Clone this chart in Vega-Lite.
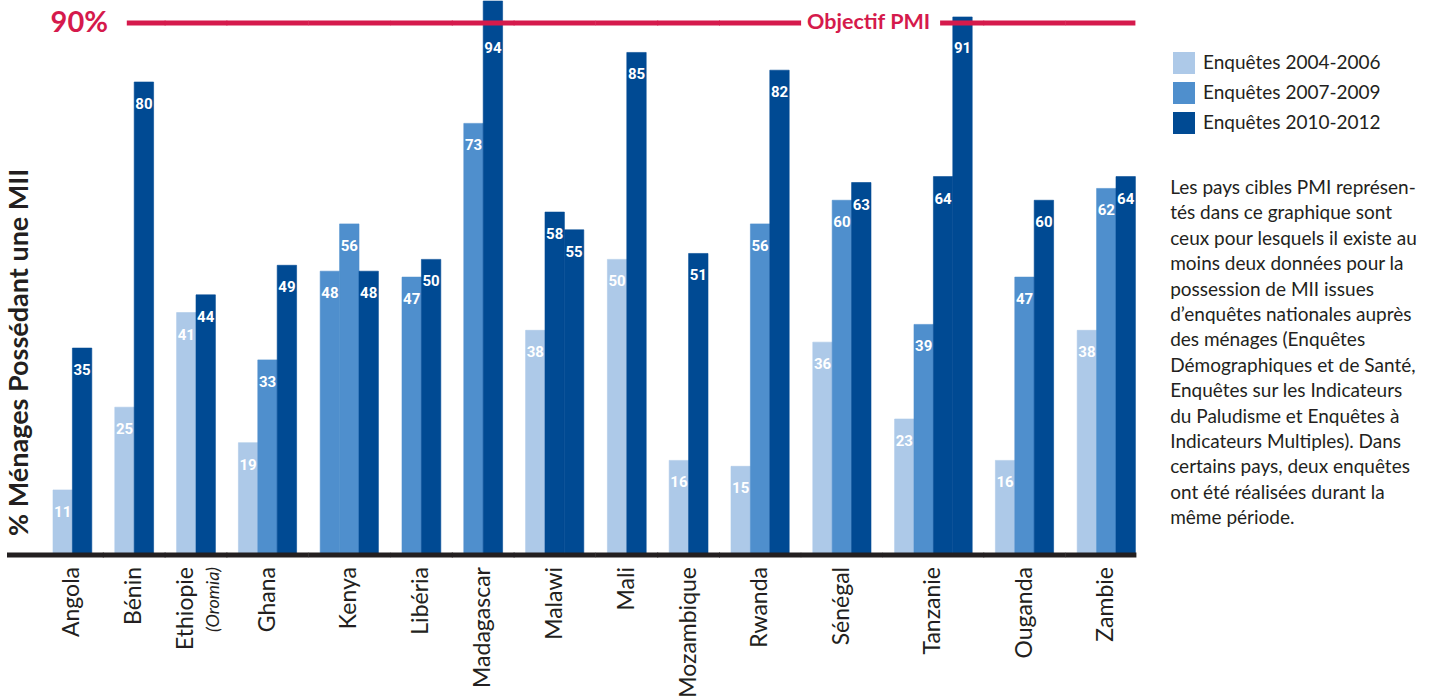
{
  "$schema": "https://vega.github.io/schema/vega-lite/v6.json",
  "padding": {"left": 4, "top": 0, "right": 5, "bottom": 5},
  "autosize": {"type": "pad"},
  "bounds": "flush",
  "config": {"view": {"stroke": null}, "font": "Lato"},
  "data": {
    "values": [
      {"pays": "Angola", "enquete": 1, "periode": "Enquêtes 2004-2006", "valeur": 11},
      {"pays": "Angola", "enquete": 2, "periode": "Enquêtes 2010-2012", "valeur": 35},
      {"pays": "Bénin", "enquete": 1, "periode": "Enquêtes 2004-2006", "valeur": 25},
      {"pays": "Bénin", "enquete": 2, "periode": "Enquêtes 2010-2012", "valeur": 80},
      {"pays": "Ethiopie", "enquete": 1, "periode": "Enquêtes 2004-2006", "valeur": 41},
      {"pays": "Ethiopie", "enquete": 2, "periode": "Enquêtes 2010-2012", "valeur": 44},
      {"pays": "Ghana", "enquete": 1, "periode": "Enquêtes 2004-2006", "valeur": 19},
      {"pays": "Ghana", "enquete": 2, "periode": "Enquêtes 2007-2009", "valeur": 33},
      {"pays": "Ghana", "enquete": 3, "periode": "Enquêtes 2010-2012", "valeur": 49},
      {"pays": "Kenya", "enquete": 1, "periode": "Enquêtes 2007-2009", "valeur": 48},
      {"pays": "Kenya", "enquete": 2, "periode": "Enquêtes 2007-2009", "valeur": 56},
      {"pays": "Kenya", "enquete": 3, "periode": "Enquêtes 2010-2012", "valeur": 48},
      {"pays": "Libéria", "enquete": 1, "periode": "Enquêtes 2007-2009", "valeur": 47},
      {"pays": "Libéria", "enquete": 2, "periode": "Enquêtes 2010-2012", "valeur": 50},
      {"pays": "Madagascar", "enquete": 1, "periode": "Enquêtes 2007-2009", "valeur": 73},
      {"pays": "Madagascar", "enquete": 2, "periode": "Enquêtes 2010-2012", "valeur": 94},
      {"pays": "Malawi", "enquete": 1, "periode": "Enquêtes 2004-2006", "valeur": 38},
      {"pays": "Malawi", "enquete": 2, "periode": "Enquêtes 2010-2012", "valeur": 58},
      {"pays": "Malawi", "enquete": 3, "periode": "Enquêtes 2010-2012", "valeur": 55},
      {"pays": "Mali", "enquete": 1, "periode": "Enquêtes 2004-2006", "valeur": 50},
      {"pays": "Mali", "enquete": 2, "periode": "Enquêtes 2010-2012", "valeur": 85},
      {"pays": "Mozambique", "enquete": 1, "periode": "Enquêtes 2004-2006", "valeur": 16},
      {"pays": "Mozambique", "enquete": 2, "periode": "Enquêtes 2010-2012", "valeur": 51},
      {"pays": "Rwanda", "enquete": 1, "periode": "Enquêtes 2004-2006", "valeur": 15},
      {"pays": "Rwanda", "enquete": 2, "periode": "Enquêtes 2007-2009", "valeur": 56},
      {"pays": "Rwanda", "enquete": 3, "periode": "Enquêtes 2010-2012", "valeur": 82},
      {"pays": "Sénégal", "enquete": 1, "periode": "Enquêtes 2004-2006", "valeur": 36},
      {"pays": "Sénégal", "enquete": 2, "periode": "Enquêtes 2007-2009", "valeur": 60},
      {"pays": "Sénégal", "enquete": 3, "periode": "Enquêtes 2010-2012", "valeur": 63},
      {"pays": "Tanzanie", "enquete": 1, "periode": "Enquêtes 2004-2006", "valeur": 23},
      {"pays": "Tanzanie", "enquete": 2, "periode": "Enquêtes 2007-2009", "valeur": 39},
      {"pays": "Tanzanie", "enquete": 3, "periode": "Enquêtes 2010-2012", "valeur": 64},
      {"pays": "Tanzanie", "enquete": 4, "periode": "Enquêtes 2010-2012", "valeur": 91},
      {"pays": "Ouganda", "enquete": 1, "periode": "Enquêtes 2004-2006", "valeur": 16},
      {"pays": "Ouganda", "enquete": 2, "periode": "Enquêtes 2007-2009", "valeur": 47},
      {"pays": "Ouganda", "enquete": 3, "periode": "Enquêtes 2010-2012", "valeur": 60},
      {"pays": "Zambie", "enquete": 1, "periode": "Enquêtes 2004-2006", "valeur": 38},
      {"pays": "Zambie", "enquete": 2, "periode": "Enquêtes 2007-2009", "valeur": 62},
      {"pays": "Zambie", "enquete": 3, "periode": "Enquêtes 2010-2012", "valeur": 64}
    ]
  },
  "facet": {
    "column": {
      "field": "pays",
      "type": "nominal",
      "title": null,
      "header": {"title": null, "labels": false},
      "sort": ["Angola", "Bénin", "Ethiopie", "Ghana", "Kenya", "Libéria", "Madagascar", "Malawi", "Mali", "Mozambique", "Rwanda", "Sénégal", "Tanzanie", "Ouganda", "Zambie"]
    }
  },
  "spacing": 22.8,
  "resolve": {"scale": {"x": "independent"}},
  "spec": {
    "width": {"step": 19.4},
    "height": 554,
    "encoding": {
      "y": {"field": "valeur", "type": "quantitative", "axis": null, "scale": {"domain": [0, 93.7], "nice": false, "clamp": true}}
    },
    "layer": [
      {
        "mark": {"type": "bar", "strokeWidth": 0.6},
        "encoding": {
          "x": {"field": "enquete", "type": "ordinal", "axis": null, "scale": {"paddingInner": 0, "paddingOuter": 0}},
          "color": {
            "field": "periode",
            "type": "nominal",
            "scale": {"domain": ["Enquêtes 2004-2006", "Enquêtes 2007-2009", "Enquêtes 2010-2012"], "range": ["#adc9e8", "#4f8fcd", "#004a93"]},
            "legend": {
              "orient": "none", "legendX": 1120, "legendY": 51, "title": null,
              "symbolType": "square", "symbolSize": 484, "symbolStrokeWidth": 0, "symbolOpacity": 1,
              "labelFont": "Lato", "labelFontSize": 19, "labelLimit": 300, "labelColor": "#231f20", "labelOffset": 8, "rowPadding": 8
            }
          },
          "stroke": {
            "field": "periode",
            "type": "nominal",
            "scale": {"domain": ["Enquêtes 2004-2006", "Enquêtes 2007-2009", "Enquêtes 2010-2012"], "range": ["#adc9e8", "#4f8fcd", "#004a93"]},
            "legend": null
          }
        }
      },
      {
        "transform": [{"filter": "datum.enquete === 1 && datum.pays === 'Angola'"}],
        "mark": {"type": "rule", "color": "#231f20", "strokeWidth": 5, "xOffset": -46, "x2Offset": 12},
        "encoding": {"x": {"value": 0}, "x2": {"value": "width"}, "y": {"datum": 0}}
      },
      {
        "transform": [{"filter": "datum.enquete === 1 && datum.pays !== 'Angola' && datum.pays !== 'Zambie'"}],
        "mark": {"type": "rule", "color": "#231f20", "strokeWidth": 5, "xOffset": -12, "x2Offset": 12},
        "encoding": {"x": {"value": 0}, "x2": {"value": "width"}, "y": {"datum": 0}}
      },
      {
        "transform": [{"filter": "datum.enquete === 1 && datum.pays === 'Zambie'"}],
        "mark": {"type": "rule", "color": "#231f20", "strokeWidth": 5, "xOffset": -12, "x2Offset": 1},
        "encoding": {"x": {"value": 0}, "x2": {"value": "width"}, "y": {"datum": 0}}
      },
      {
        "transform": [{"filter": "datum.valeur < 90"}],
        "mark": {"type": "text", "color": "white", "font": "Roboto", "fontWeight": "bold", "fontSize": 15, "baseline": "alphabetic", "align": "center", "dy": 27},
        "encoding": {
          "x": {"field": "enquete", "type": "ordinal", "axis": null},
          "text": {"field": "valeur", "type": "quantitative"}
        }
      },
      {
        "transform": [{"filter": "datum.valeur >= 90"}],
        "mark": {"type": "text", "color": "white", "font": "Roboto", "fontWeight": "bold", "fontSize": 15, "baseline": "alphabetic", "align": "center", "dy": 30},
        "encoding": {
          "x": {"field": "enquete", "type": "ordinal", "axis": null},
          "text": {"field": "valeur", "type": "quantitative"},
          "y": {"datum": 90}
        }
      },
      {
        "transform": [{"filter": "datum.enquete === 1 && datum.pays === 'Bénin'"}],
        "mark": {"type": "rule", "color": "#d51a4c", "strokeWidth": 5, "xOffset": 12, "x2Offset": 12},
        "encoding": {"x": {"value": 0}, "x2": {"value": "width"}, "y": {"datum": 90}}
      },
      {
        "transform": [{"filter": "datum.enquete === 1 && datum.pays !== 'Angola' && datum.pays !== 'Bénin' && datum.pays !== 'Zambie'"}],
        "mark": {"type": "rule", "color": "#d51a4c", "strokeWidth": 5, "xOffset": -12, "x2Offset": 12},
        "encoding": {"x": {"value": 0}, "x2": {"value": "width"}, "y": {"datum": 90}}
      },
      {
        "transform": [{"filter": "datum.enquete === 1 && datum.pays === 'Zambie'"}],
        "mark": {"type": "rule", "color": "#d51a4c", "strokeWidth": 5, "xOffset": -12, "x2Offset": 0},
        "encoding": {"x": {"value": 0}, "x2": {"value": "width"}, "y": {"datum": 90}}
      },
      {
        "transform": [{"filter": "datum.enquete === 1 && datum.pays === 'Tanzanie'"}],
        "mark": {"type": "rule", "color": "white", "strokeWidth": 12},
        "encoding": {"x": {"value": -93.5}, "x2": {"value": 45.5}, "y": {"datum": 90}}
      },
      {
        "transform": [{"filter": "datum.enquete === 1 && datum.pays === 'Tanzanie'"}],
        "mark": {"type": "text", "color": "#d51a4c", "font": "Lato", "fontWeight": "bold", "fontSize": 21.5, "align": "center", "baseline": "alphabetic", "dy": 6.5, "text": "Objectif PMI"},
        "encoding": {"x": {"value": -26}, "y": {"datum": 90}}
      },
      {
        "transform": [{"filter": "datum.enquete === 1 && datum.pays === 'Angola'"}],
        "mark": {"type": "text", "color": "#d51a4c", "font": "Lato", "fontWeight": "bold", "fontSize": 29, "align": "right", "baseline": "middle", "text": "90%"},
        "encoding": {"x": {"value": 55}, "y": {"datum": 90}}
      },
      {
        "transform": [{"filter": "datum.enquete === 1 && datum.pays === 'Angola'"}],
        "mark": {"type": "text", "color": "#231f20", "font": "Lato", "fontWeight": "bold", "fontSize": 27, "align": "left", "baseline": "alphabetic", "angle": 270, "text": "% Ménages Possédant une MII"},
        "encoding": {"x": {"value": -25}, "y": {"value": 535}}
      },
      {
        "transform": [
          {"filter": "datum.enquete === 2"},
          {"filter": {"field": "pays", "oneOf": ["Angola", "Bénin", "Libéria", "Madagascar", "Mali", "Mozambique"]}}
        ],
        "mark": {"type": "text", "color": "#231f20", "font": "Lato", "fontSize": 23, "align": "right", "baseline": "middle", "angle": 270, "dx": -12},
        "encoding": {
          "x": {"field": "enquete", "type": "ordinal", "axis": null, "bandPosition": 0},
          "text": {"field": "pays", "type": "nominal"},
          "y": {"datum": 0}
        }
      },
      {
        "transform": [
          {"filter": "datum.enquete === 2"},
          {"filter": {"field": "pays", "oneOf": ["Ghana", "Kenya", "Malawi", "Rwanda", "Sénégal", "Ouganda", "Zambie"]}}
        ],
        "mark": {"type": "text", "color": "#231f20", "font": "Lato", "fontSize": 23, "align": "right", "baseline": "middle", "angle": 270, "dx": -12},
        "encoding": {
          "x": {"field": "enquete", "type": "ordinal", "axis": null, "bandPosition": 0.5},
          "text": {"field": "pays", "type": "nominal"},
          "y": {"datum": 0}
        }
      },
      {
        "transform": [{"filter": "datum.enquete === 3 && datum.pays === 'Tanzanie'"}],
        "mark": {"type": "text", "color": "#231f20", "font": "Lato", "fontSize": 23, "align": "right", "baseline": "middle", "angle": 270, "dx": -12},
        "encoding": {
          "x": {"field": "enquete", "type": "ordinal", "axis": null, "bandPosition": 0},
          "text": {"field": "pays", "type": "nominal"},
          "y": {"datum": 0}
        }
      },
      {
        "transform": [{"filter": "datum.enquete === 2 && datum.pays === 'Ethiopie'"}],
        "mark": {"type": "text", "color": "#231f20", "font": "Lato", "fontSize": 23, "align": "right", "baseline": "middle", "angle": 270, "dx": -12, "dy": -10},
        "encoding": {
          "x": {"field": "enquete", "type": "ordinal", "axis": null, "bandPosition": 0},
          "text": {"field": "pays", "type": "nominal"},
          "y": {"datum": 0}
        }
      },
      {
        "transform": [{"filter": "datum.enquete === 2 && datum.pays === 'Ethiopie'"}],
        "mark": {"type": "text", "color": "#231f20", "font": "Lato", "fontSize": 18, "fontStyle": "italic", "align": "right", "baseline": "middle", "angle": 270, "dx": -12, "dy": 18, "text": "(Oromia)"},
        "encoding": {
          "x": {"field": "enquete", "type": "ordinal", "axis": null, "bandPosition": 0},
          "y": {"datum": 0}
        }
      },
      {
        "transform": [{"filter": "datum.enquete === 1 && datum.pays === 'Zambie'"}],
        "mark": {
          "type": "text", "color": "#231f20", "font": "Lato", "fontSize": 19, "align": "left", "baseline": "alphabetic", "lineHeight": 25.4,
          "text": ["Les pays cibles PMI représen-", "tés dans ce graphique sont", "ceux pour lesquels il existe au", "moins deux données pour la", "possession de MII issues", "d’enquêtes nationales auprès", "des ménages (Enquêtes", "Démographiques et de Santé,", "Enquêtes sur les Indicateurs", "du Paludisme et Enquêtes à", "Indicateurs Multiples). Dans", "certains pays, deux enquêtes", "ont été réalisées durant la", "même période."]
        },
        "encoding": {"x": {"value": 93}, "y": {"value": 193}}
      }
    ]
  }
}
